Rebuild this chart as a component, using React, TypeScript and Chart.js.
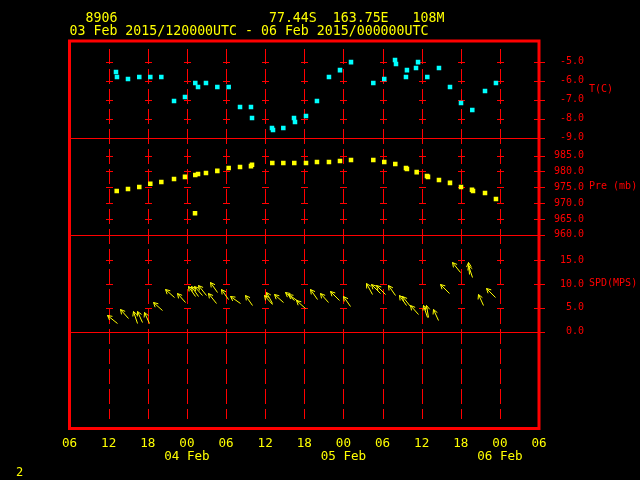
import React, { useEffect, useRef } from 'react';
import { Chart, registerables } from 'chart.js';

Chart.register(...registerables);

// ---- header text ----
const stationId = '8906';
const stationLat = '77.44S';
const stationLon = '163.75E';
const stationElev = '108M';
const periodText = '03 Feb 2015/120000UTC - 06 Feb 2015/000000UTC';
const pageNumber = '2';

// ---- x axis: hours since 03 Feb 2015 06UTC ----
const xTickHours = [0, 6, 12, 18, 24, 30, 36, 42, 48, 54, 60, 66, 72];
const xTickLabels = ['06', '12', '18', '00', '06', '12', '18', '00', '06', '12', '18', '00', '06'];
const xDateLabels = ['', '', '', '04 Feb', '', '', '', '05 Feb', '', '', '', '06 Feb', ''];

// ---- temperature (C) ----
const tHours = [7.13, 7.28, 8.97, 10.7, 12.39, 14.08, 16.03, 17.71, 19.29, 19.71, 20.93, 22.67, 24.41, 26.15, 27.83, 27.99,
  31.05, 31.21, 32.79, 34.43, 34.58, 36.27, 37.95, 39.79, 41.48, 43.17, 46.59, 48.27, 49.92, 50.07, 51.6, 51.75,
  53.14, 53.45, 54.87, 56.66, 58.35, 60.04, 61.77, 63.72, 65.4];
const tValues = [-5.54, -5.8, -5.91, -5.8, -5.8, -5.8, -7.06, -6.85, -6.12, -6.33, -6.12, -6.33, -6.33, -7.38, -7.38, -7.96,
  -8.48, -8.59, -8.48, -7.96, -8.17, -7.85, -7.06, -5.8, -5.44, -5.02, -6.12, -5.91, -4.91, -5.12, -5.8, -5.44,
  -5.33, -5.02, -5.8, -5.33, -6.33, -7.17, -7.54, -6.54, -6.12];

// ---- pressure (mb) ----
const pHours = [7.24, 8.97, 10.7, 12.39, 14.08, 16.03, 17.71, 19.29, 19.71, 19.25, 20.93, 22.67, 24.41, 26.15, 27.83, 27.99,
  31.1, 32.79, 34.47, 36.27, 37.95, 39.79, 41.48, 43.17, 46.59, 48.27, 49.96, 51.6, 51.75, 53.24, 54.82, 54.98,
  56.66, 58.35, 60.04, 61.72, 61.88, 63.72, 65.4];
const pValues = [973.8, 974.5, 975.1, 976.1, 976.7, 977.6, 978.3, 978.9, 979.2, 966.8, 979.5, 980.2, 981.1, 981.4, 981.7, 982.1,
  982.7, 982.7, 982.7, 982.7, 983.0, 983.0, 983.3, 983.6, 983.6, 983.0, 982.4, 981.1, 980.8, 979.8, 978.6, 978.3,
  977.3, 976.4, 975.1, 974.2, 973.8, 973.2, 971.3];

// ---- wind: speed (m/s) and direction wind blows from (deg) ----
const wHours = [7.24, 9.02, 10.4, 11.07, 12.24, 14.14, 16.07, 17.71, 19.25, 19.71, 20.27, 20.89, 22.67, 22.47, 24.35, 26.15,
  27.94, 31.01, 31.13, 32.79, 34.43, 35.09, 36.11, 37.91, 39.69, 41.37, 43.01, 46.39, 47.62, 48.39, 49.92, 51.6,
  52.21, 53.43, 54.78, 54.98, 56.56, 58.24, 59.88, 61.72, 61.26, 63.46, 65.25];
const wSpeed = [1.87, 2.8, 1.75, 2.08, 1.75, 4.54, 7.34, 6.29, 7.49, 7.49, 7.7, 7.7, 8.39, 5.95, 6.8, 5.95,
  5.6, 5.95, 5.91, 6.29, 6.65, 6.5, 4.9, 6.8, 6.29, 6.65, 5.45, 8.02, 8.06, 7.91, 7.7, 5.6,
  5.39, 3.7, 3.01, 3.01, 2.44, 8.06, 12.54, 11.49, 12.1, 5.6, 7.22];
const wDir = [128, 140, 160, 154, 156, 133, 133, 140, 145, 143, 139, 141, 144, 142, 145, 125,
  143, 148, 140, 133, 130, 127, 133, 143, 140, 135, 144, 150, 136, 135, 146, 145,
  141, 140, 158, 168, 157, 134, 141, 159, 175, 157, 134];

// ---- y axes ----
const tTicks = [-9, -8, -7, -6, -5];
const pTicks = [960, 965, 970, 975, 980, 985];
const sTicks = [0, 5, 10, 15];
const tRange = [-9, -3.91];
const pRange = [960, 990.63];
const sRange = [0, 20.38];
const panelTitles = ['T(C)', 'Pre (mb)', 'SPD(MPS)'];

const RED = '#ff0000';
const YELLOW = '#ffff00';
const CYAN = '#00ffff';
const MONO = '"DejaVu Sans Mono", monospace';

const headerLine = '  ' + stationId + ' '.repeat(19) + stationLat + '  ' + stationLon + '   ' + stationElev;

const meteogramPlugin = {
  id: 'meteogram',
  beforeDatasetsDraw(chart: any) {
    const { ctx, chartArea: ca, scales } = chart;
    const xs = scales.x;
    ctx.save();
    ctx.strokeStyle = RED;
    ctx.lineWidth = 1;
    const inner = xTickHours.filter((h) => h > xs.min && h < xs.max);
    const xPix = inner.map((h) => Math.round(xs.getPixelForValue(h)) + 0.5);
    ctx.setLineDash([15, 5]);
    for (const px of xPix) {
      ctx.beginPath();
      ctx.moveTo(px, ca.top + 8);
      ctx.lineTo(px, ca.bottom - 9.5);
      ctx.stroke();
    }
    ctx.setLineDash([]);
    const panels: [string, number[]][] = [['yT', tTicks], ['yP', pTicks], ['yS', sTicks]];
    for (const [id, ticks] of panels) {
      const s = scales[id];
      for (const v of ticks) {
        const raw = s.getPixelForValue(v);
        const py = Math.round(raw) + 0.5;
        const atEdge = Math.abs(raw - s.bottom) < 1.5 || Math.abs(raw - s.top) < 1.5;
        ctx.beginPath();
        if (atEdge) {
          ctx.moveTo(ca.left, py);
          ctx.lineTo(ca.right + 6, py);
        } else {
          for (const px of xPix) {
            ctx.moveTo(px - 3.5, py);
            ctx.lineTo(px + 3.5, py);
          }
          ctx.moveTo(ca.right - 5, py);
          ctx.lineTo(ca.right + 6, py);
        }
        ctx.stroke();
      }
    }
    ctx.lineWidth = 3;
    ctx.strokeRect(ca.left, ca.top, ca.right - ca.left, ca.bottom - ca.top);

    ctx.fillStyle = RED;
    ctx.font = `10px ${MONO}`;
    ctx.textBaseline = 'middle';
    ctx.textAlign = 'left';
    panels.forEach(([id], i) => {
      const s = scales[id];
      ctx.fillText(panelTitles[i], s.left + 50, (s.top + s.bottom) / 2);
    });
    ctx.fillStyle = YELLOW;
    ctx.font = `12px ${MONO}`;
    ctx.fillText(pageNumber, 16, 473);
    ctx.restore();
  },
  afterDatasetsDraw(chart: any) {
    const { ctx } = chart;
    const meta = chart.getDatasetMeta(2);
    ctx.save();
    ctx.strokeStyle = YELLOW;
    ctx.lineWidth = 1;
    const L = 13;
    const H = 5;
    const ha = (28 * Math.PI) / 180;
    meta.data.forEach((el: any, i: number) => {
      const b = ((wDir[i] + 180) * Math.PI) / 180;
      const ux = Math.sin(b);
      const uy = -Math.cos(b);
      const x0 = Math.round(el.x) + 0.5;
      const y0 = Math.round(el.y) + 0.5;
      const x1 = Math.round(x0 + L * ux) + 0.5;
      const y1 = Math.round(y0 + L * uy) + 0.5;
      ctx.beginPath();
      ctx.moveTo(x0, y0);
      ctx.lineTo(x1, y1);
      for (const sgn of [1, -1]) {
        const c = Math.cos(sgn * ha);
        const s = Math.sin(sgn * ha);
        const rx = -(ux * c - uy * s);
        const ry = -(ux * s + uy * c);
        ctx.moveTo(x1, y1);
        ctx.lineTo(x1 + H * rx, y1 + H * ry);
      }
      ctx.stroke();
    });
    ctx.restore();
  },
};

function yScale(range: number[], ticks: number[] | null) {
  return {
    type: 'linear',
    axis: 'y',
    position: 'right',
    stack: 'panels',
    stackWeight: 1,
    min: range[0],
    max: range[1],
    grid: { display: false, drawTicks: false },
    border: { display: false },
    afterBuildTicks: (s: any) => {
      s.ticks = (ticks || []).map((v) => ({ value: v }));
    },
    afterFit: (s: any) => {
      s.width = 101;
    },
    ticks: {
      display: !!ticks,
      autoSkip: false,
      padding: 15,
      crossAlign: 'near',
      color: RED,
      font: { family: MONO, size: 10 },
      callback: (v: any) => Number(v).toFixed(1).padStart(5, ' '),
    },
  };
}

export default function App() {
  const ref = useRef<HTMLCanvasElement | null>(null);
  useEffect(() => {
    document.body.style.margin = '0';
    document.body.style.background = '#000';
    const canvas = ref.current;
    if (!canvas) return;
    const chart = new Chart(canvas, {
      type: 'scatter',
      data: {
        datasets: [
          {
            label: 'T',
            data: tHours.map((h, i) => ({ x: h, y: tValues[i] })),
            yAxisID: 'yT',
            pointStyle: 'rect',
            pointRadius: 3.2,
            borderWidth: 0,
            backgroundColor: CYAN,
          },
          {
            label: 'Pre',
            data: pHours.map((h, i) => ({ x: h, y: pValues[i] })),
            yAxisID: 'yP',
            pointStyle: 'rect',
            pointRadius: 3.2,
            borderWidth: 0,
            backgroundColor: YELLOW,
          },
          {
            label: 'SPD',
            data: wHours.map((h, i) => ({ x: h, y: wSpeed[i] })),
            yAxisID: 'yS',
            pointRadius: 0,
            borderWidth: 0,
            backgroundColor: YELLOW,
          },
        ],
      } as any,
      options: {
        animation: false,
        responsive: false,
        devicePixelRatio: 1,
        events: [],
        layout: { padding: { left: 69.5, top: 0, right: 0, bottom: 0 } },
        plugins: {
          legend: { display: false },
          tooltip: { enabled: false },
          title: {
            display: true,
            text: [headerLine, periodText],
            align: 'start',
            color: YELLOW,
            font: { family: MONO, size: 13.25, weight: 'normal', lineHeight: '13.4px' },
            padding: { top: 11.6, bottom: 2.6 },
          },
        },
        scales: {
          x: {
            type: 'linear',
            position: 'bottom',
            min: 0,
            max: 72,
            grid: { display: false, drawTicks: false },
            border: { display: false },
            afterBuildTicks: (s: any) => {
              s.ticks = xTickHours.map((v) => ({ value: v }));
            },
            afterFit: (s: any) => {
              s.height = 51.5;
            },
            ticks: {
              autoSkip: false,
              maxRotation: 0,
              minRotation: 0,
              padding: 8,
              color: YELLOW,
              font: { family: MONO, size: 12.6, lineHeight: '13.8px' },
              callback: (v: any) => {
                const i = xTickHours.indexOf(Number(v));
                if (i < 0) return '';
                return xDateLabels[i] ? [xTickLabels[i], xDateLabels[i]] : xTickLabels[i];
              },
            },
          },
          yT: yScale(tRange, tTicks),
          yP: yScale(pRange, pTicks),
          yS: yScale(sRange, sTicks),
          yE: yScale([0, 1], null),
        },
      } as any,
      plugins: [meteogramPlugin],
    });
    return () => chart.destroy();
  }, []);
  return (
    <div style={{ position: 'absolute', left: 0, top: 0, width: 640, height: 480, background: '#000' }}>
      <canvas ref={ref} width={640} height={480} style={{ width: 640, height: 480, display: 'block' }} />
    </div>
  );
}
